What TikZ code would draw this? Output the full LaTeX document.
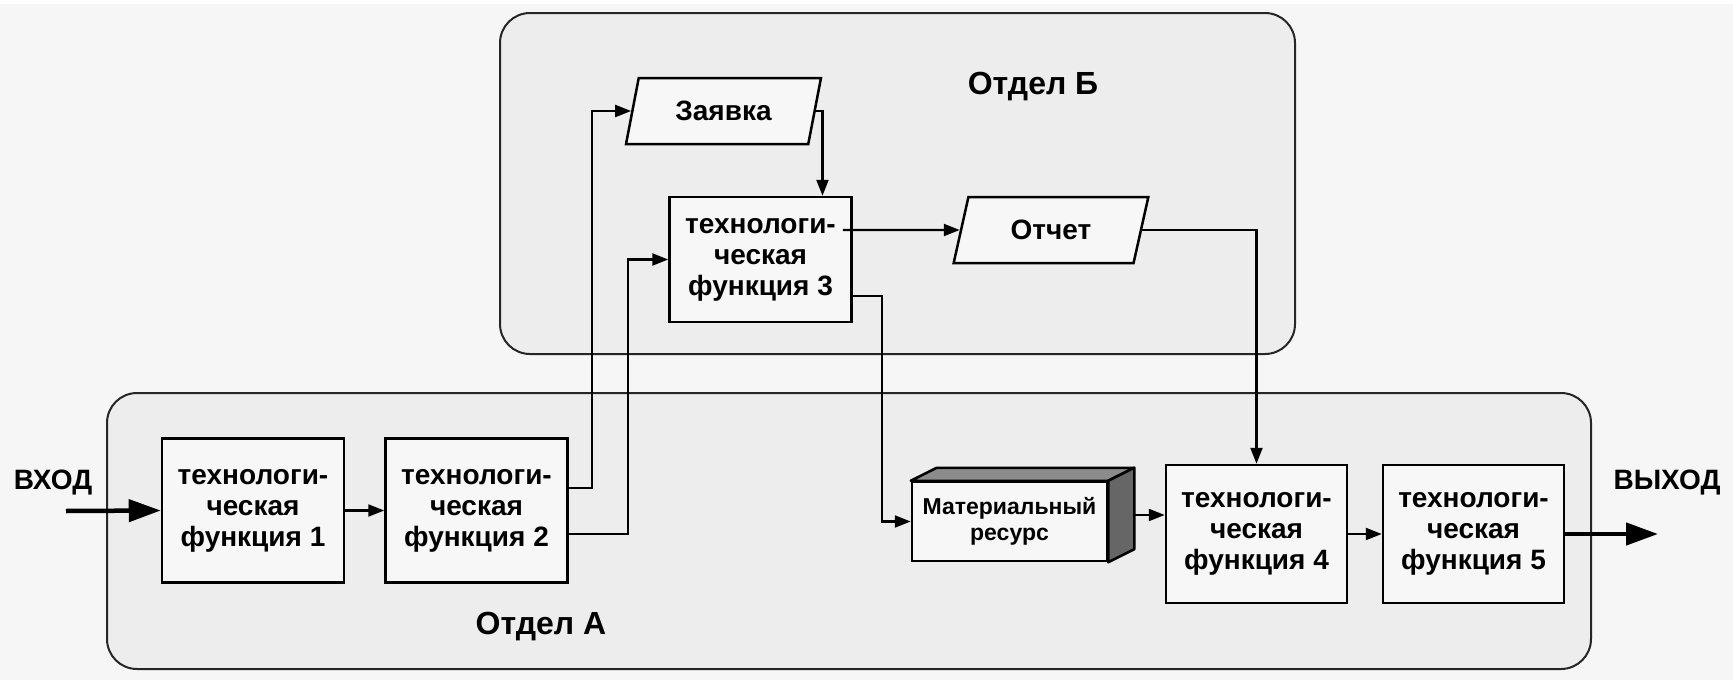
\documentclass[tikz,border=0pt]{standalone}
\usepackage{fontspec}
\setmainfont{Liberation Sans}
\usetikzlibrary{arrows.meta,shapes.geometric,calc}
\definecolor{bgcol}{HTML}{F6F6F6}
\definecolor{grpcol}{HTML}{EDEDED}
\definecolor{boxcol}{HTML}{F7F7F7}
\definecolor{topface}{HTML}{8C8C8C}
\definecolor{sideface}{HTML}{666666}
\tikzset{
  grp/.style={draw=black!85, line width=2pt, fill=grpcol, rounded corners=30pt},
  func/.style={draw=black, line width=2.5pt, fill=boxcol, minimum width=182pt, minimum height=144pt,
    inner sep=0pt, align=center, font=\bfseries\fontsize{28}{31}\selectfont},
  doc/.style={trapezium, trapezium left angle=70, trapezium right angle=110, trapezium stretches=true,
    draw=black, line width=2.5pt, fill=boxcol, minimum width=195pt, minimum height=66pt, inner sep=0pt,
    font=\bfseries\fontsize{28}{31}\selectfont},
  res/.style={draw=black, line width=2.5pt, fill=boxcol, minimum width=195pt, minimum height=79pt,
    inner sep=0pt, align=center, font=\bfseries\fontsize{23}{26}\selectfont},
  lbl/.style={font=\bfseries\fontsize{28}{31}\selectfont, inner sep=0pt},
  grplbl/.style={font=\bfseries\fontsize{32}{36}\selectfont, inner sep=0pt},
  conn/.style={line width=2.2pt, -{Triangle[length=16pt,width=12pt]}},
  thick arrow/.style={line width=4.5pt, -{Triangle[length=32pt,width=22pt]}},
}
\begin{document}
\begin{tikzpicture}[x=1pt,y=-1pt]
\useasboundingbox (0,0) rectangle (1733,680);
\fill[bgcol] (0,0) rectangle (1733,680);
\fill[white] (0,0) rectangle (1733,4);
% groups
\draw[grp] (500,13) rectangle (1295,354);
\draw[grp] (107,393) rectangle (1591,669);
\node[grplbl] (lB) at (1033,87) {Отдел Б};
\node[grplbl] (lA) at (541,627) {Отдел А};
% functions
\node[func] (F1) at (253,510.5) {технологи-\\ческая\\функция 1};
\node[func] (F2) at (476.5,510.5) {технологи-\\ческая\\функция 2};
\node[func, minimum height=125pt] (F3) at (760.5,259.5) {технологи-\\ческая\\функция 3};
\node[func, minimum width=181pt, minimum height=138pt] (F4) at (1256.5,534) {технологи-\\ческая\\функция 4};
\node[func, minimum width=181pt, minimum height=138pt] (F5) at (1473.5,534) {технологи-\\ческая\\функция 5};
% documents
\node[doc] (Z) at (723.5,111) {Заявка};
\node[doc] (O) at (1051,230) {Отчет};
% material resource cube
\node[res] (M) at (1009.5,521.5) {Материальный\\ресурс};
\draw[line width=2.5pt, fill=topface, line join=round] (M.north west) -- ++(26,-13) -- ($(M.north east)+(26,-13)$) -- (M.north east) -- cycle;
\draw[line width=2.5pt, fill=sideface, line join=round] (M.north east) -- ++(26,-13) -- ($(M.south east)+(26,-13)$) -- (M.south east) -- cycle;
\coordinate (mr) at ($(M.east)+(26,-6.5)$);
% in / out
\node[lbl] (vin) at (53,483) {ВХОД};
\node[lbl] (vout) at (1667,483) {ВЫХОД};
\coordinate (inS) at (66,511);
\coordinate (outE) at (1658,534);
% connectors
\draw[thick arrow] (inS) -- (F1.west);
\draw[thick arrow] (F5.east) -- (outE);
\draw[conn] (F1.east) -- (F2.west);
\draw[conn] ([yshift=22.5pt]F2.east) -- ++(23,0) |- (Z.west);
\draw[conn] ([yshift=-23.5pt]F2.east) -- ++(59,0) |- (F3.west);
\draw[conn] (Z.east) -| ([xshift=62pt]F3.north);
\draw[conn] ([xshift=-10pt,yshift=29.5pt]F3.east) -- (O.west);
\draw[conn] ([yshift=-36.5pt]F3.east) -- ++(29,0) |- (M.west);
\draw[conn] (O.east) -| (F4.north);
\draw[conn] (mr) -- (mr -| F4.west);
\draw[conn] (F4.east) -- (F5.west);
\end{tikzpicture}
\end{document}
